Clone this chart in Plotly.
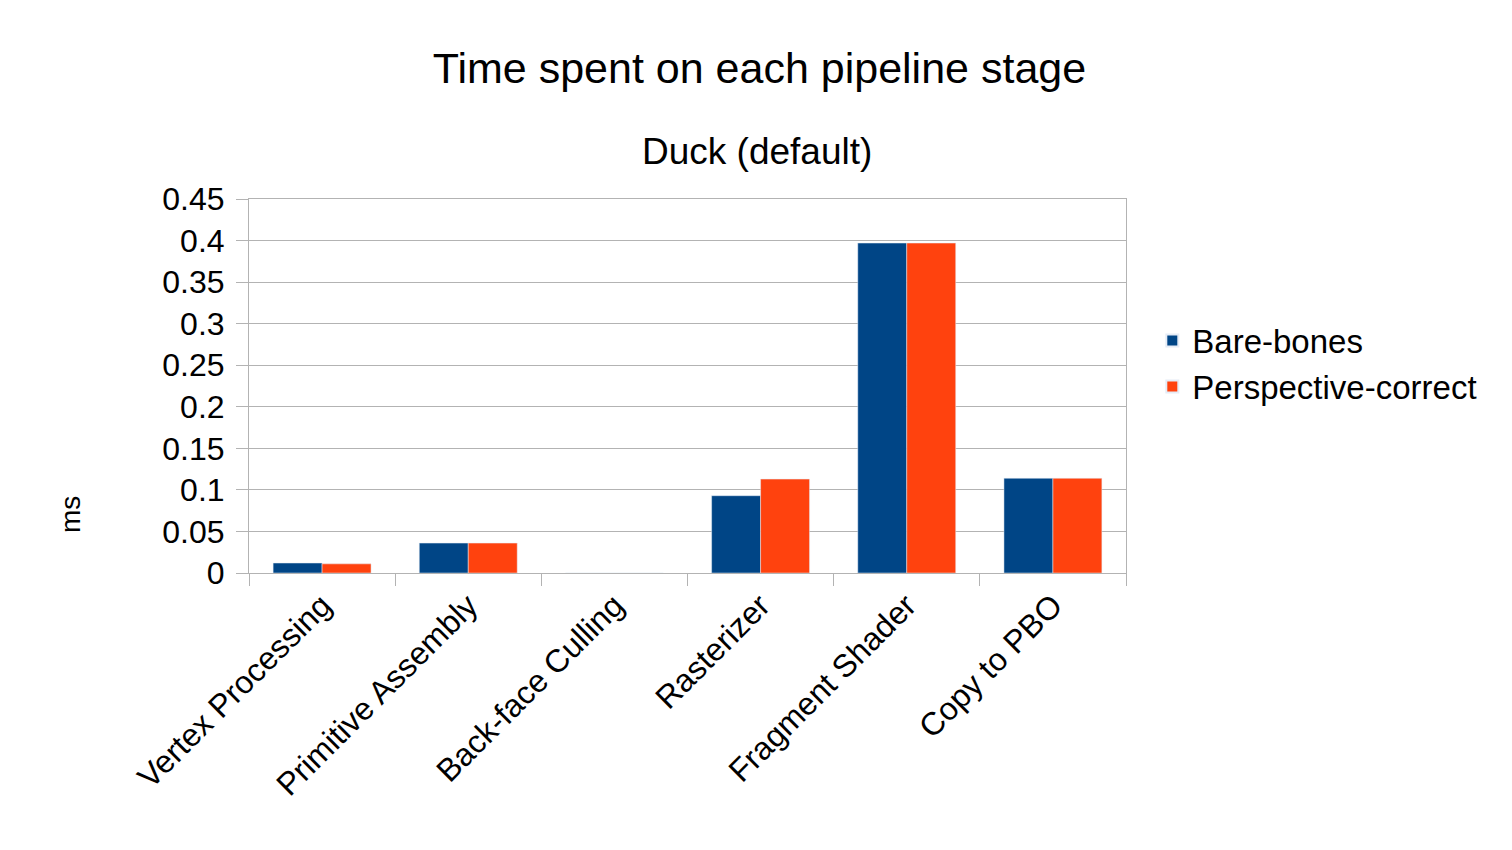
import plotly.graph_objects as go

stages = ["Vertex Processing", "Primitive Assembly", "Back-face Culling",
          "Rasterizer", "Fragment Shader", "Copy to PBO"]
bare_bones = [0.012, 0.036, 0.0, 0.093, 0.397, 0.114]
perspective = [0.011, 0.036, 0.0, 0.113, 0.397, 0.114]
y_ticks = [0, 0.05, 0.1, 0.15, 0.2, 0.25, 0.3, 0.35, 0.4, 0.45]
y_labels = ["0", "0.05", "0.1", "0.15", "0.2", "0.25", "0.3", "0.35", "0.4", "0.45"]

fig = go.Figure()
fig.add_trace(go.Bar(x=stages, y=bare_bones, name="Bare-bones", marker_color="#004586"))
fig.add_trace(go.Bar(x=stages, y=perspective, name="Perspective-correct", marker_color="#ff420e"))

fig.update_layout(
    width=1512, height=850,
    font=dict(family="Liberation Sans, Arial, sans-serif", size=32, color="black"),
    title=dict(text="Time spent on each pipeline stage", x=0.497, xanchor="center",
               y=1 - 60 / 850, yanchor="middle", font=dict(size=43)),
    plot_bgcolor="white", paper_bgcolor="white",
    margin=dict(l=241, r=394, t=191, b=285),
    barmode="group", bargap=0.33, bargroupgap=0,
    showlegend=True,
    legend=dict(x=1.03, y=0.56, xanchor="left", yanchor="middle", font=dict(size=33),
                itemsizing="constant", tracegroupgap=0),
    xaxis=dict(tickangle=-45, tickson="boundaries", ticks="outside", ticklen=12,
               tickcolor="#b3b3b3", showline=True, linecolor="#b3b3b3", mirror=True,
               tickfont=dict(size=32)),
    yaxis=dict(range=[0, 0.45], tickvals=y_ticks, ticktext=y_labels, showgrid=True,
               gridcolor="#b3b3b3", showline=True, linecolor="#b3b3b3", mirror=True,
               ticks="outside", ticklen=12, tickcolor="#b3b3b3", zeroline=False,
               ticklabelstandoff=5, tickfont=dict(size=32)),
    annotations=[
        dict(text="Duck (default)", xref="paper", yref="paper", x=0.579, y=(573 - 152) / 374,
             showarrow=False, font=dict(size=37), xanchor="center", yanchor="middle"),
        dict(text="ms", xref="paper", yref="paper", x=(70 - 249) / 877, y=(573 - 515) / 374,
             showarrow=False, textangle=-90, font=dict(size=28), xanchor="center", yanchor="middle"),
    ],
)

fig.write_html("out.html")
